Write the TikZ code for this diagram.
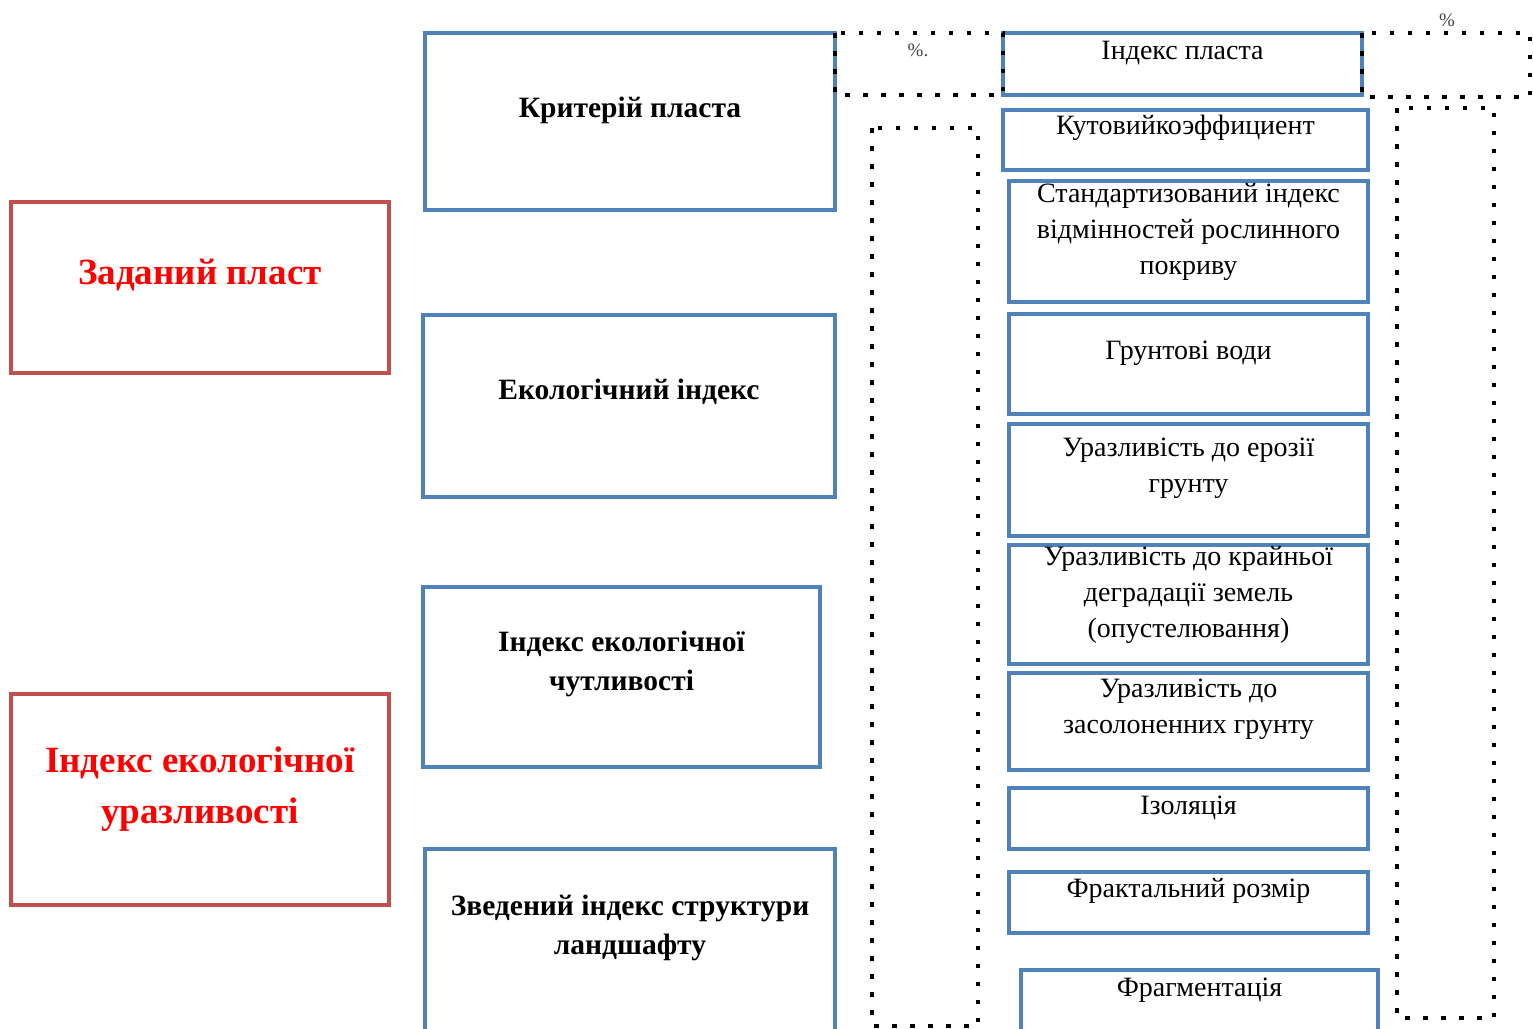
\documentclass[tikz,border=0pt]{standalone}
\usepackage{fontspec}
\setmainfont{Liberation Serif}
\usetikzlibrary{positioning}
\definecolor{boxblue}{RGB}{79,129,189}
\definecolor{boxred}{RGB}{192,80,77}
\newcommand{\topbox}[4]{\parbox[c][#1][t]{#2}{\centering\vspace*{\dimexpr #3-\baselineskip*7/10\relax}\strut #4}}

\begin{document}
\begin{tikzpicture}
[x=1pt, y=-1pt,
 font=\fontsize{28}{36}\selectfont,
 box/.style={draw=boxblue, line width=4pt, inner sep=0pt, outer sep=0pt, anchor=north west},
 bbox/.style={box, font=\fontsize{29.5}{39}\selectfont\bfseries},
 rbox/.style={box, draw=boxred, text=red, font=\fontsize{37}{51}\selectfont\bfseries},
 dotline/.style={line width=4.5pt, dash pattern=on 4.5pt off 13.5pt},
 pct/.style={font=\fontsize{19}{21}\selectfont, text=black!75, inner sep=0pt}]
\useasboundingbox (0,0) rectangle (1533,1028);
\clip (0,0) rectangle (1533,1028);
% red boxes
\node (zadan) [rbox] at (11,202) {\topbox{171pt}{378pt}{82pt}{Заданий пласт}};
\node (urazl) [rbox] at (11,694) {\topbox{211pt}{378pt}{78pt}{Індекс екологічної\\ уразливості}};
% middle column
\node (krit)  [bbox] at (425,33)  {\topbox{177pt}{410pt}{84pt}{Критерій пласта}};
\node (ekol)  [bbox] at (423,315) {\topbox{182pt}{412pt}{84pt}{Екологічний індекс}};
\node (chutl) [bbox] at (423,587) {\topbox{180pt}{397pt}{64pt}{Індекс екологічної\\ чутливості}};
\node (zved)  [bbox] at (425,849) {\topbox{200pt}{410pt}{66pt}{Зведений індекс структури\\ ландшафту}};
% right column
\node (idxpl) [box] at (1003,33)  {\topbox{62pt}{359pt}{26pt}{Індекс пласта}};
\node (kutov) [box] at (1003,110) {\topbox{60pt}{365pt}{24pt}{Кутовийкоэффициент}};
\node (ndvi)  [box] at (1009,181) {\topbox{121pt}{359pt}{21pt}{Стандартизований індекс\\ відмінностей рослинного\\ покриву}};
\node (grunt) [box] at (1009,314) {\topbox{100pt}{359pt}{45pt}{Грунтові води}};
\node (eroz)  [box] at (1009,424) {\topbox{112pt}{359pt}{32pt}{Уразливість до ерозії\\ грунту}};
\node (opust) [box] at (1009,545) {\topbox{119pt}{359pt}{20pt}{Уразливість до крайньої\\ деградації земель\\ (опустелювання)}};
\node (zasol) [box] at (1009,673) {\topbox{97pt}{359pt}{24pt}{Уразливість до\\ засолоненних грунту}};
\node (izol)  [box] at (1009,788) {\topbox{61pt}{359pt}{26pt}{Ізоляція}};
\node (frakt) [box] at (1009,872) {\topbox{61pt}{359pt}{25pt}{Фрактальний розмір}};
\node (fragm) [box] at (1021,970) {\topbox{80pt}{357pt}{26pt}{Фрагментація}};
% dotted frames
\coordinate (rtop) at (1530,97);
\coordinate (lfra) at (872,128);
\coordinate (lfrb) at (978,1026);
\coordinate (rfra) at (1397,108);
\coordinate (rfrb) at (1494,1018);
\draw[dotline] (krit.north east) rectangle (idxpl.south west);
\draw[dotline] (idxpl.north east) rectangle (rtop);
\draw[dotline] (lfra) rectangle (lfrb);
\draw[dotline] (rfra) rectangle (rfrb);
\node (pcta) [pct] at (918,50) {\%.};
\node (pctb) [pct] at (1447,20) {\%};
\end{tikzpicture}
\end{document}
